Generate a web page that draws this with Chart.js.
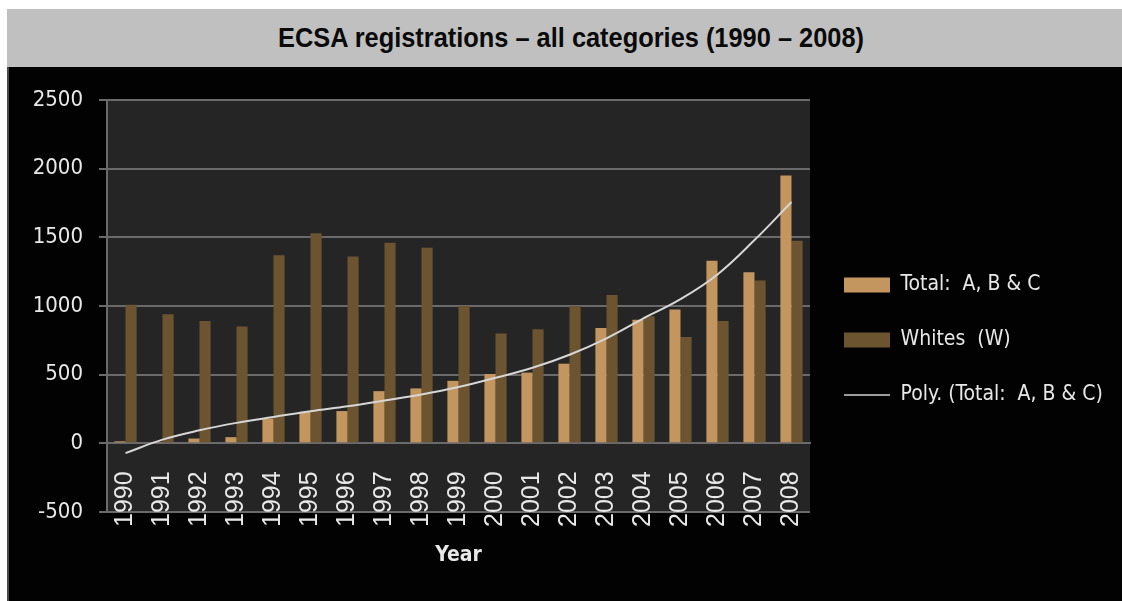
<!DOCTYPE html>
<html><head><meta charset="utf-8">
<script src="https://cdn.jsdelivr.net/npm/chart.js@4/dist/chart.umd.min.js"></script>
<style>
html,body{margin:0;padding:0;background:#fff;width:1122px;height:601px;overflow:hidden}
#band{position:absolute;left:7px;top:9px;width:1115px;height:58px;background:#c0c0c0;overflow:hidden}
#title{position:absolute;left:0;top:0;white-space:nowrap;font:bold 28px 'Liberation Sans',Arial,sans-serif;color:#0a0a0a;line-height:58px;transform-origin:0 50%}
#wrap{position:absolute;left:7px;top:67px;width:1113px;height:534px;background:#020202;border-left:2px solid #4a4a4a}
canvas{display:block}
</style></head>
<body>
<div id="band"><span id="title">ECSA registrations – all categories (1990 – 2008)</span></div>
<div id="wrap"><canvas id="c" width="1113" height="534"></canvas></div>
<script>
const years = ['1990','1991','1992','1993','1994','1995','1996','1997','1998','1999','2000','2001','2002','2003','2004','2005','2006','2007','2008'];
const totalABC = [15, 10, 35, 45, 180, 230, 235, 380, 400, 455, 505, 515, 580, 840, 900, 975, 1330, 1245, 1950];
const whites = [1010, 940, 890, 850, 1370, 1530, 1360, 1460, 1425, 1000, 800, 830, 1000, 1080, 925, 775, 890, 1185, 1475];
const polyTrend = [-71, 27, 95, 149, 192, 234, 270, 312, 356, 410, 477, 550, 645, 765, 910, 1050, 1230, 1480, 1757];
const seriesNames = ['Total:  A, B & C', 'Whites  (W)', 'Poly. (Total:  A, B & C)'];
const yMin = -500, yMax = 2500, yStep = 500;

// condensed title: fit to reference width, centred in the band
(function () {
  const t = document.getElementById('title');
  const w = t.getBoundingClientRect().width;
  const target = 586, f = target / w;
  t.style.transform = 'scaleX(' + f + ')';
  t.style.left = ((1115 - target) / 2 + 6) + 'px';
})();

const FONT = "'DejaVu Sans Condensed','DejaVu Sans',sans-serif";
const LEG_SIZE = 21, LEG_PAD = 34, LEG_BOX = 46, LEG_W = 312;

const plotBg = {
  id: 'plotBg',
  beforeDraw(chart) {
    const {ctx, chartArea: a} = chart;
    ctx.save();
    ctx.fillStyle = '#252525';
    ctx.fillRect(a.left, a.top, a.right - a.left, a.bottom - a.top);
    ctx.restore();
  }
};
const legendWidth = {
  id: 'legendWidth',
  beforeLayout(chart) {
    const lg = chart.legend;
    if (lg && !lg._wfix) {
      const origFit = lg.fit;
      lg.fit = function () { origFit.call(this); this.width = LEG_W; };
      lg._wfix = true;
    }
  }
};

new Chart(document.getElementById('c'), {
  type: 'bar',
  data: {
    labels: years,
    datasets: [
      {label: seriesNames[0], data: totalABC, backgroundColor: '#c3965f', order: 2, categoryPercentage: 0.6, barPercentage: 1},
      {label: seriesNames[1], data: whites, backgroundColor: '#6c5430', order: 2, categoryPercentage: 0.6, barPercentage: 1},
      {type: 'line', label: seriesNames[2], data: polyTrend, borderColor: '#d6d6d6', borderWidth: 2, pointRadius: 0, tension: 0.4, fill: false, order: 1}
    ]
  },
  options: {
    responsive: false,
    animation: false,
    layout: {padding: {top: 33, bottom: 89, left: 0, right: 0}},
    plugins: {
      tooltip: {enabled: false},
      legend: {
        position: 'right',
        title: {display: true, text: '', font: {size: 10}, padding: {top: 28, bottom: 28}},
        labels: {
          usePointStyle: true, pointStyleWidth: LEG_BOX, boxHeight: 15, padding: LEG_PAD,
          color: '#e8e8e8', font: {family: FONT, size: LEG_SIZE},
          sort: (a, b) => a.datasetIndex - b.datasetIndex,
          generateLabels(chart) {
            const items = Chart.defaults.plugins.legend.labels.generateLabels(chart);
            items.forEach(it => {
              if (it.datasetIndex < 2) { it.pointStyle = 'rect'; it.lineWidth = 0; it.strokeStyle = 'rgba(0,0,0,0)'; }
              else { it.pointStyle = 'line'; it.lineWidth = 1.5; it.strokeStyle = '#cfcfcf'; }
            });
            return items;
          }
        }
      }
    },
    scales: {
      x: {
        position: {y: 0},
        grid: {display: false, drawTicks: false},
        border: {display: true, color: '#6a6a6a', width: 2},
        ticks: {color: '#e8e8e8', font: {family: "'Liberation Sans',sans-serif", size: 25}, maxRotation: 90, minRotation: 90, padding: 28, autoSkip: false},
        title: {display: true, text: 'Year', color: '#e8e8e8', font: {family: FONT, size: 21, weight: 'bold'}, padding: {top: 0, bottom: -60}},
        afterFit(s) { s.height = 65; }
      },
      y: {
        min: yMin, max: yMax,
        ticks: {stepSize: yStep, color: '#e8e8e8', font: {family: FONT, size: 22}, padding: 16, callback: v => String(v)},
        grid: {color: '#6a6a6a', lineWidth: 2, tickLength: 8, drawTicks: true},
        border: {display: true, color: '#6a6a6a', width: 2},
        afterFit(s) { s.width = 98; }
      }
    }
  },
  plugins: [plotBg, legendWidth]
});
</script>
</body></html>
